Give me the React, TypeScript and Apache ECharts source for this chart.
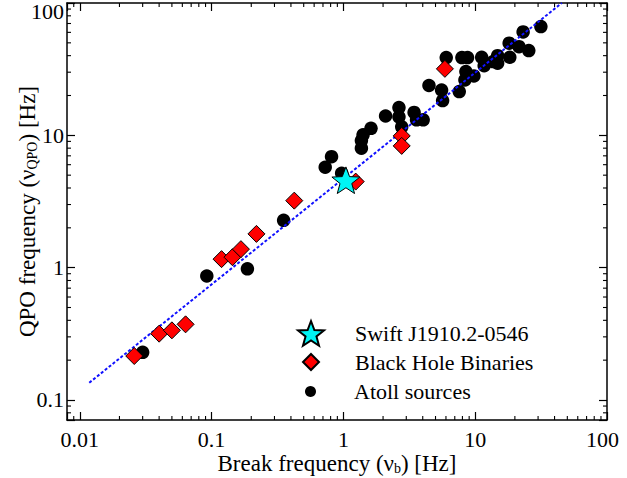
import React, { useEffect, useRef } from "react";
import * as echarts from "echarts";

const FONT = "Liberation Serif, Times New Roman, serif";

// Atoll sources (black circles)
const atollX = [0.030, 0.092, 0.187, 0.352, 0.728, 0.813, 0.97, 1.37, 1.37, 1.41, 1.62, 2.09, 2.64, 2.64, 2.77, 3.44, 3.59, 4.03, 4.46, 5.56, 5.66, 6.03, 7.57, 7.93, 8.75, 8.50, 8.36, 9.78, 11.2, 11.7, 13.7, 14.8, 14.8, 18.1, 18.3, 21.5, 25.5, 23.1, 31.5];
const atollY = [0.229, 0.865, 0.98, 2.28, 5.74, 6.9, 5.17, 7.99, 9.12, 10.1, 11.3, 14.0, 16.2, 13.8, 11.6, 14.9, 13.1, 13.1, 23.8, 22.0, 18.3, 38.7, 21.4, 38.7, 38.7, 30.3, 26.2, 28.1, 38.9, 33.6, 36.1, 40.0, 35.1, 49.7, 38.9, 46.8, 43.7, 60.5, 66.3];

// Black hole binaries (red diamonds)
const bhbX = [0.0259, 0.040, 0.050, 0.0635, 0.119, 0.144, 0.167, 0.219, 0.424, 1.24, 2.77, 2.77, 5.89];
const bhbY = [0.215, 0.317, 0.336, 0.373, 1.16, 1.20, 1.38, 1.80, 3.21, 4.47, 9.9, 8.32, 31.8];

// Swift J1910.2-0546 (cyan star)
const swiftX = [1.045];
const swiftY = [4.58];

// Fitted relation (dashed blue line) end points
const fitX = [0.0118, 45.4];
const fitY = [0.135, 100];

const xTickLabels = ["0.01", "0.1", "1", "10", "100"];
const yTickLabels = ["0.1", "1", "10", "100"];

const X_MIN = 0.008;
const X_MAX = 100;
const Y_MIN = 0.0706;
const Y_MAX = 100;

const seriesNames = ["Swift J1910.2-0546", "Black Hole Binaries", "Atoll sources"];

const STAR =
  "path://M0,-100 L24.69,-33.98 L95.11,-30.90 L39.94,12.98 L58.78,80.90 L0,42 L-58.78,80.90 L-39.94,12.98 L-95.11,-30.90 L-24.69,-33.98 Z";

function pickLabel(labels: string[], v: number): string {
  const lv = Math.log10(v);
  const hit = labels.find((t) => Math.abs(Math.log10(parseFloat(t)) - lv) < 1e-6);
  return hit || "";
}

function zip(xs: number[], ys: number[]) {
  return xs.map((x, i) => [x, ys[i]]);
}

export default function App() {
  const ref = useRef<HTMLDivElement>(null);

  useEffect(() => {
    if (!ref.current) return;
    const chart = echarts.init(ref.current, undefined, { renderer: "svg" });

    const axisLine = { show: true, onZero: false, lineStyle: { color: "#000", width: 1.5 } };
    const axisTick = { show: true, inside: true, length: 8, lineStyle: { color: "#000", width: 1.2 } };
    const labelStyle = { fontFamily: FONT, fontSize: 22, color: "#000" };

    const legendCommon = {
      orient: "vertical" as const,
      padding: 0,
      selectedMode: false,
    };
    const legendText = (pad: number) => ({
      fontFamily: FONT,
      fontSize: 22,
      color: "#000",
      padding: [0, 0, 0, pad],
    });

    chart.setOption({
      animation: false,
      backgroundColor: "#fff",
      textStyle: { fontFamily: FONT },
      grid: { left: 67, right: 20, top: 3, bottom: 58, containLabel: false, outerBoundsMode: "none" },
      legend: [
        { ...legendCommon, left: 297, top: 320, itemWidth: 26, itemHeight: 26, textStyle: legendText(26), data: [{ name: seriesNames[0], icon: STAR }] },
        { ...legendCommon, left: 302, top: 351, itemWidth: 16, itemHeight: 16, textStyle: legendText(31), data: [{ name: seriesNames[1], icon: "diamond" }] },
        { ...legendCommon, left: 305, top: 380.5, itemWidth: 11, itemHeight: 11, textStyle: legendText(33), data: [{ name: seriesNames[2], icon: "circle" }] },
      ],
      xAxis: [
        {
          type: "log",
          logBase: 10,
          min: X_MIN,
          max: X_MAX,
          position: "bottom",
          axisLine,
          axisTick,
          splitLine: { show: false },
          axisLabel: {
            ...labelStyle,
            margin: 8,
            formatter: (v: number) => {
              const s = pickLabel(xTickLabels, v);
              return s === "100" ? "{r|100}" : s;
            },
            rich: { r: { fontFamily: FONT, fontSize: 22, color: "#000", padding: [0, 9, 0, 0] } },
          },
          name: "Break frequency (ν{sub|b}) [Hz]",
          nameLocation: "middle",
          nameGap: 31,
          nameMoveOverlap: false,
          nameTextStyle: {
            ...labelStyle,
            fontSize: 23,
            rich: { sub: { fontFamily: FONT, fontSize: 14, color: "#000", padding: [10, 0, 0, 0] } },
          },
        },
        {
          type: "log",
          logBase: 10,
          min: X_MIN,
          max: X_MAX,
          position: "top",
          axisLine,
          axisTick,
          splitLine: { show: false },
          axisLabel: { show: false },
        },
      ],
      yAxis: [
        {
          type: "log",
          logBase: 10,
          min: Y_MIN,
          max: Y_MAX,
          position: "left",
          axisLine,
          axisTick,
          splitLine: { show: false },
          axisLabel: {
            ...labelStyle,
            margin: 3,
            formatter: (v: number) => {
              const s = pickLabel(yTickLabels, v);
              return s === "100" ? "{t|100}" : s;
            },
            rich: { t: { fontFamily: FONT, fontSize: 22, color: "#000", padding: [16, 0, 0, 0] } },
          },
          name: "QPO frequency (ν{sub|QPO}) [Hz]",
          nameLocation: "middle",
          nameRotate: 90,
          nameGap: 28,
          nameMoveOverlap: false,
          nameTextStyle: {
            ...labelStyle,
            fontSize: 23,
            rich: { sub: { fontFamily: FONT, fontSize: 14, color: "#000", padding: [10, 0, 0, 0] } },
          },
        },
        {
          type: "log",
          logBase: 10,
          min: Y_MIN,
          max: Y_MAX,
          position: "right",
          axisLine,
          axisTick,
          splitLine: { show: false },
          axisLabel: { show: false },
        },
      ],
      series: [
        {
          name: seriesNames[2],
          type: "scatter",
          symbol: "circle",
          symbolSize: 13.5,
          itemStyle: { color: "#000", opacity: 1 },
          data: zip(atollX, atollY),
          z: 2,
        },
        {
          name: "fit",
          type: "line",
          data: zip(fitX, fitY),
          showSymbol: false,
          symbol: "none",
          lineStyle: { color: "#1010ff", width: 2, type: [3, 2] },
          z: 3,
        },
        {
          name: seriesNames[1],
          type: "scatter",
          symbol: "diamond",
          symbolSize: 17,
          itemStyle: { color: "#ff0000", borderColor: "#000", borderWidth: 1, opacity: 1 },
          data: zip(bhbX, bhbY),
          z: 4,
        },
        {
          name: seriesNames[0],
          type: "scatter",
          symbol: STAR,
          symbolKeepAspect: true,
          symbolSize: 28,
          itemStyle: { color: "#00f5f5", borderColor: "#000", borderWidth: 1, opacity: 1 },
          data: zip(swiftX, swiftY),
          z: 5,
        },
      ],
    });

    // minor ticks (2..9 per decade) on all four sides
    const xb = chart.convertToPixel({ yAxisIndex: 0 }, Y_MIN) as number;
    const xt = chart.convertToPixel({ yAxisIndex: 0 }, Y_MAX) as number;
    const yl = chart.convertToPixel({ xAxisIndex: 0 }, X_MIN) as number;
    const yr = chart.convertToPixel({ xAxisIndex: 0 }, X_MAX) as number;
    const L = 4;
    const lines: any[] = [];
    const st = { stroke: "#000", lineWidth: 1.1 };
    for (let d = -3; d <= 2; d++) {
      for (let m = 2; m <= 9; m++) {
        const v = m * Math.pow(10, d);
        if (v > X_MIN && v < X_MAX) {
          const px = chart.convertToPixel({ xAxisIndex: 0 }, v) as number;
          lines.push({ type: "line", silent: true, shape: { x1: px, y1: xb, x2: px, y2: xb - L }, style: st });
          lines.push({ type: "line", silent: true, shape: { x1: px, y1: xt, x2: px, y2: xt + L }, style: st });
        }
        if (v > Y_MIN && v < Y_MAX) {
          const py = chart.convertToPixel({ yAxisIndex: 0 }, v) as number;
          lines.push({ type: "line", silent: true, shape: { x1: yl, y1: py, x2: yl + L, y2: py }, style: st });
          lines.push({ type: "line", silent: true, shape: { x1: yr, y1: py, x2: yr - L, y2: py }, style: st });
        }
      }
    }
    chart.setOption({ graphic: lines });

    return () => chart.dispose();
  }, []);

  return (
    <div
      ref={ref}
      style={{ position: "fixed", left: 0, top: 0, width: 627, height: 478, background: "#fff" }}
    />
  );
}
